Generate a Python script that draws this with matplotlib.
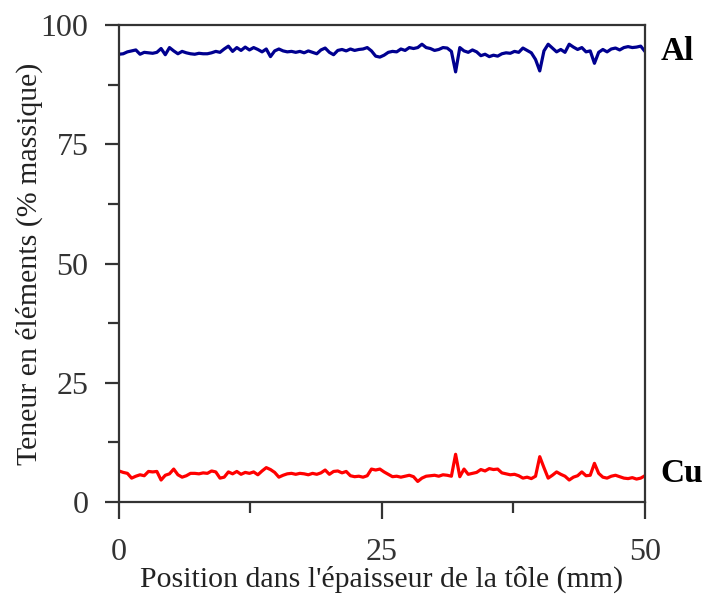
import matplotlib.pyplot as plt
import numpy as np
from matplotlib.ticker import MultipleLocator

# Profil de composition dans l'épaisseur (pas de 0,4 mm)
position_mm = np.arange(126) * 0.4

teneur_al = [
    93.9, 94.0, 94.4, 94.6, 94.8, 93.9, 94.3, 94.2, 94.1, 94.3,
    95.1, 93.8, 95.3, 94.6, 94.0, 94.5, 94.2, 94.0, 93.9, 94.1,
    94.0, 94.0, 94.2, 94.5, 94.3, 95.0, 95.6, 94.5, 95.3, 94.7,
    95.4, 94.8, 95.3, 94.9, 94.4, 95.0, 93.4, 94.6, 95.0, 94.6,
    94.4, 94.5, 94.3, 94.5, 94.2, 94.6, 94.3, 94.0, 94.8, 95.2,
    94.3, 93.8, 94.7, 94.9, 94.6, 95.0, 94.7, 94.9, 95.0, 95.3,
    94.6, 93.5, 93.3, 93.7, 94.3, 94.5, 94.4, 95.0, 94.7, 95.3,
    95.1, 95.3, 96.0, 95.3, 95.1, 94.7, 94.9, 95.3, 95.2, 94.5,
    90.2, 95.3, 94.6, 94.3, 94.8, 94.4, 93.6, 93.9, 93.4, 93.7,
    93.5, 94.0, 94.2, 94.1, 94.5, 94.3, 95.2, 94.7, 94.2, 92.8,
    90.4, 94.6, 96.0, 95.2, 94.4, 94.9, 94.3, 96.0, 95.4, 94.9,
    95.3, 94.4, 94.6, 92.0, 94.3, 94.9, 94.4, 95.0, 95.2, 94.8,
    95.3, 95.5, 95.3, 95.4, 95.6, 94.5,
]

teneur_cu = [
    6.5, 6.2, 6.0, 5.0, 5.4, 5.7, 5.5, 6.4, 6.3, 6.4,
    4.6, 5.6, 5.9, 6.9, 5.7, 5.2, 5.5, 6.0, 6.0, 5.9,
    6.1, 6.0, 6.5, 6.3, 5.0, 5.2, 6.3, 5.9, 6.4, 5.8,
    6.2, 6.0, 6.3, 5.7, 6.5, 7.2, 6.8, 6.2, 5.2, 5.6,
    5.9, 6.0, 5.8, 6.0, 5.9, 5.7, 6.0, 5.8, 6.1, 6.7,
    5.8, 6.4, 6.5, 6.1, 6.4, 5.5, 5.3, 5.4, 5.2, 5.5,
    6.9, 6.7, 6.9, 6.3, 5.8, 5.3, 5.4, 5.2, 5.4, 5.6,
    5.3, 4.3, 5.0, 5.4, 5.5, 5.6, 5.4, 5.7, 5.6, 5.4,
    10.0, 5.3, 6.9, 5.8, 6.0, 6.2, 6.8, 6.5, 7.0, 6.8,
    6.9, 6.1, 5.9, 5.7, 5.8, 5.5, 5.0, 5.2, 4.9, 5.4,
    9.5, 7.2, 5.0, 5.6, 6.3, 5.8, 5.4, 4.6, 5.2, 5.5,
    6.3, 5.5, 5.6, 8.1, 6.0, 5.2, 5.0, 5.4, 5.6, 5.3,
    5.0, 4.9, 5.1, 4.8, 5.0, 5.5,
]

plt.rcParams['font.family'] = ['Liberation Serif', 'DejaVu Serif']

fig = plt.figure(figsize=(7.05, 5.99), dpi=100)
ax = fig.add_axes([0.1688, 0.162, 0.746, 0.796])

ax.plot(position_mm, teneur_al, color='#000090', lw=2.3)
ax.plot(position_mm, teneur_cu, color='#ff0000', lw=2.3)

ax.set_xlim(0, 50)
ax.set_ylim(0, 100)
ax.xaxis.set_major_locator(MultipleLocator(25))
ax.xaxis.set_minor_locator(MultipleLocator(12.5))
ax.yaxis.set_major_locator(MultipleLocator(25))
ax.yaxis.set_minor_locator(MultipleLocator(12.5))

for s in ax.spines.values():
    s.set_color('#333333')
    s.set_linewidth(1.6)

ax.tick_params(axis='both', which='both', direction='out', color='#333333',
               width=1.6, labelcolor='#333333', labelsize=23)
ax.tick_params(axis='x', which='major', length=12, pad=14)
ax.tick_params(axis='x', which='minor', length=8)
ax.tick_params(axis='y', which='major', length=10, pad=12)
ax.tick_params(axis='y', which='minor', length=8)

ax.set_xlabel("Position dans l'épaisseur de la tôle (mm)", fontsize=21.5,
              color='#222222', labelpad=-1)
ax.set_ylabel('Teneur en éléments (% massique)', fontsize=21.5,
              color='#222222', labelpad=-2)

ax.text(1.03, teneur_al[-1], 'Al', transform=ax.get_yaxis_transform(),
        fontsize=24, fontweight='bold', va='center', ha='left')
ax.text(1.03, teneur_cu[-1] + 0.5, 'Cu', transform=ax.get_yaxis_transform(),
        fontsize=24, fontweight='bold', va='center', ha='left')

fig.savefig('out.png', dpi=100)
